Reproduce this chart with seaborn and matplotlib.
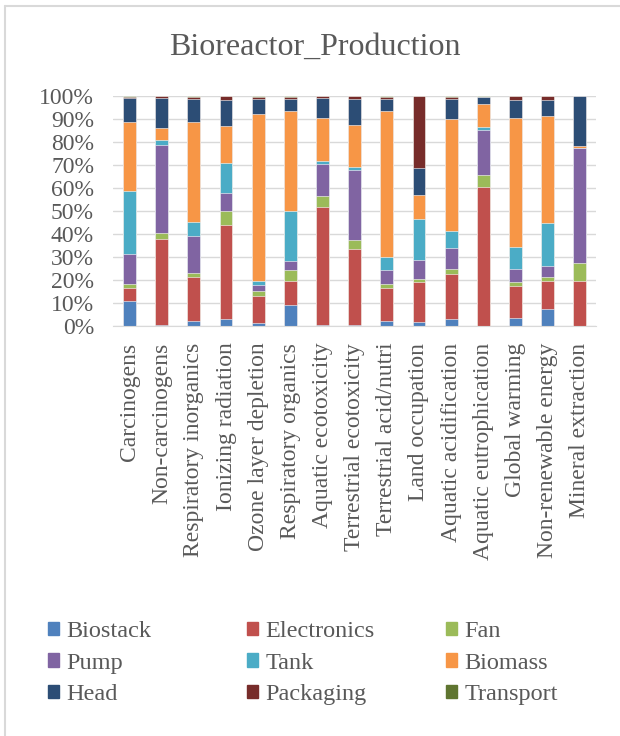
import seaborn as sns
import matplotlib.pyplot as plt
import matplotlib.lines as mlines
import matplotlib.patches as mpatches
import pandas as pd
import numpy as np

categories = ['Carcinogens', 'Non-carcinogens', 'Respiratory inorganics', 'Ionizing radiation',
              'Ozone layer depletion', 'Respiratory organics', 'Aquatic ecotoxicity',
              'Terrestrial ecotoxicity', 'Terrestrial acid/nutri', 'Land occupation',
              'Aquatic acidification', 'Aquatic eutrophication', 'Global warming',
              'Non-renewable energy', 'Mineral extraction']

biostack = [11, 0.5, 2.2, 3.1, 1.5, 9.1, 0.5, 0.3, 2, 1.8, 2.9, 0, 3.6, 7.6, 0]
electronics = [5.5, 37.2, 19, 40.8, 11.5, 10.6, 51.3, 33.3, 14.5, 17.2, 19.6, 60.4, 13.8, 11.8, 19.7]
fan = [1.6, 3, 2, 6, 2.3, 4.7, 4.7, 3.9, 1.6, 1.3, 2.2, 5.3, 1.9, 2.1, 7.6]
pump = [13.4, 38.1, 15.9, 8.1, 2.7, 3.8, 13.9, 30.4, 6.3, 8.5, 9.3, 19.6, 5.4, 4.5, 49.9]
tank = [27.3, 2.1, 6, 12.8, 1.7, 21.9, 1.6, 1.1, 5.7, 17.8, 7.3, 1.3, 9.5, 19, 0.3]
biomass = [29.9, 5.1, 43.5, 16.1, 72.6, 43.2, 18.5, 18.3, 63.3, 10.2, 48.6, 9.8, 56.2, 46.5, 0.9]
head = [10.7, 13.3, 10.1, 11.5, 6.4, 5.4, 8.8, 11.4, 5.3, 12.1, 8.9, 3, 8.1, 7, 21.6]
packaging = [0.5, 0.7, 1, 1.6, 0.7, 1, 0.7, 1.2, 1, 31.1, 0.9, 0.4, 1.5, 1.5, 0]
transport = [0.2, 0.1, 0.3, 0.1, 0.6, 0.3, 0.1, 0.1, 0.3, 0, 0.3, 0.2, 0.1, 0.1, 0]

series = ['Biostack', 'Electronics', 'Fan', 'Pump', 'Tank', 'Biomass', 'Head', 'Packaging', 'Transport']
colors = ['#4F81BD', '#C0504D', '#9BBB59', '#8064A2', '#4BACC6', '#F79646', '#2C4D75', '#772C2A', '#5F7530']

df = pd.DataFrame(dict(zip(series, [biostack, electronics, fan, pump, tank, biomass,
                                     head, packaging, transport])), index=categories)
df = df.div(df.sum(axis=1), axis=0) * 100
cum = df.cumsum(axis=1)

sns.set_style('white')
plt.rcParams['font.family'] = ['Liberation Serif', 'DejaVu Serif']
txt = '#595959'

fig = plt.figure(figsize=(6.2, 7.36), dpi=100)
ax = fig.add_axes([0.183, 0.557, 0.778, 0.3125])

# stacked bars: draw cumulative totals from the top series down
for name, col in reversed(list(zip(series, colors))):
    d = pd.DataFrame({'cat': categories, 'val': cum[name].values})
    sns.barplot(data=d, x='cat', y='val', order=categories, color=col, width=0.4,
                saturation=1, edgecolor='white', linewidth=0.4, ax=ax, zorder=2)

ax.set_ylim(0, 100)
ax.set_xlim(-0.5, len(categories) - 0.5)
ax.set_yticks(np.arange(0, 101, 10))
ax.set_yticklabels([f'{v}%' for v in range(0, 101, 10)], fontsize=17, color=txt)
ax.set_xticks(range(len(categories)))
ax.set_xticklabels(categories, rotation=90, fontsize=17, color=txt)
ax.tick_params(axis='x', length=0, pad=12)
ax.tick_params(axis='y', length=0, pad=14)
ax.set_xlabel('')
ax.set_ylabel('')
ax.yaxis.grid(True, color='#d9d9d9', linewidth=1, zorder=0)
ax.set_axisbelow(True)
for s in ['top', 'right', 'left']:
    ax.spines[s].set_visible(False)
ax.spines['bottom'].set_color('#d9d9d9')

fig.text(0.508, 0.936, 'Bioreactor_Production', ha='center', va='center', fontsize=23, color=txt)

# legend laid out row by row in three fixed columns
handles = [mpatches.Patch(color=c, label=s) for s, c in zip(series, colors)]
for j, x0 in enumerate([0.077, 0.398, 0.719]):
    idx = [j, j + 3, j + 6]
    fig.legend([handles[i] for i in idx], [series[i] for i in idx],
               loc='upper left', bbox_to_anchor=(x0, 0.156), frameon=False, fontsize=17.5,
               handlelength=0.47, handleheight=0.47, handletextpad=0.3,
               labelspacing=0.43, labelcolor=txt, borderaxespad=0, borderpad=0)

# chart frame
fig.add_artist(mlines.Line2D([5 / 620, 1], [1 - 6 / 736, 1 - 6 / 736], color='#d9d9d9', lw=1.5))
fig.add_artist(mlines.Line2D([5 / 620, 5 / 620], [0, 1 - 6 / 736], color='#d9d9d9', lw=1.5))

plt.savefig('out.png', dpi=100)
